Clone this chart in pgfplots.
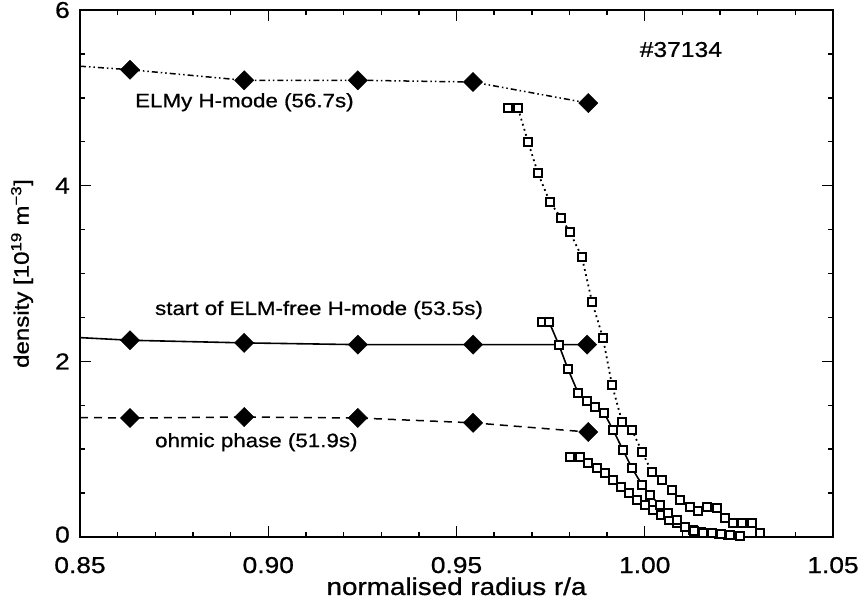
\documentclass[border=0pt]{standalone}
\usepackage{fontspec}
\setmainfont{Liberation Sans}[FakeStretch=1.15, FakeBold=0.8]
\usepackage{pgfplots}
\pgfplotsset{compat=1.18}
\begin{document}
\begin{tikzpicture}
\begin{axis}[
  scale only axis, width=753bp, height=527bp,
  xmin=0.85, xmax=1.05, ymin=0, ymax=6,
  xtick={0.85,0.90,0.95,1.00,1.05},
  ytick={0,2,4,6},
  yticklabels={\raisebox{5bp}{0},2,4,\raisebox{-9bp}{6}},
  minor x tick num=4, minor y tick num=3,
  major tick length=11bp, minor tick length=5bp,
  every tick/.style={line width=1.4bp, black},
  axis line style={line width=2.2bp},
  /pgf/number format/assume math mode=true,
  xticklabel style={/pgf/number format/fixed, /pgf/number format/fixed zerofill, /pgf/number format/precision=2},
  ticklabel style={font=\fontsize{23}{23}\selectfont},
  xticklabel style={anchor=base, yshift=-36bp, inner sep=0pt},
  yticklabel style={inner sep=0pt, xshift=-10bp},
  xlabel={normalised radius r/a},
  ylabel={density [10\textsuperscript{19} m\textsuperscript{−3}]},
  xlabel style={font=\fontsize{24.3}{24.3}\selectfont, inner sep=0pt, at={(axis description cs:0.5,-0.110)}, anchor=base},
  ylabel style={font=\fontsize{21}{21}\selectfont, at={(axis description cs:-0.077,0.5)}, anchor=center},
  diam/.style={only marks, mark=square*, mark size=6.8bp, mark options={rotate=45, fill=black, solid}},
  sq/.style={mark=square*, mark size=3.8bp, mark options={fill=white, draw=black, line width=2bp, solid}},
]
% ELMy H-mode diamonds line
\addplot[black, line width=1.5bp, dash pattern=on 6bp off 3bp on 1.5bp off 3bp on 1.5bp off 3bp] coordinates {
 (0.85,5.36) (0.8633,5.32) (0.8936,5.20) (0.9238,5.20) (0.9544,5.18) (0.9850,4.94)};
\addplot[black, diam] coordinates {
 (0.8633,5.32) (0.8936,5.20) (0.9238,5.20) (0.9544,5.18) (0.9850,4.94)};
% start of ELM-free
\addplot[black, line width=1.6bp] coordinates {
 (0.85,2.27) (0.8633,2.24) (0.8936,2.21) (0.9238,2.19) (0.9544,2.19) (0.9847,2.19)};
\addplot[black, diam] coordinates {
 (0.8633,2.24) (0.8936,2.21) (0.9238,2.19) (0.9544,2.19) (0.9847,2.19)};
% ohmic
\addplot[black, line width=1.5bp, dash pattern=on 8bp off 6bp] coordinates {
 (0.85,1.36) (0.8633,1.355) (0.8936,1.366) (0.9238,1.355) (0.9544,1.30) (0.9850,1.195)};
\addplot[black, diam] coordinates {
 (0.8633,1.355) (0.8936,1.366) (0.9238,1.355) (0.9544,1.30) (0.9850,1.195)};
% ohmic squares
\addplot[black, line width=1.6bp, sq] coordinates {
 (0.9801,0.911) (0.9828,0.911) (0.9849,0.843) (0.9873,0.786) (0.9894,0.729)
 (0.9916,0.649) (0.9937,0.569) (0.9958,0.501) (0.9979,0.421) (1.0001,0.364)
 (1.0022,0.307) (1.0043,0.250) (1.0064,0.194) (1.0086,0.159) (1.0107,0.114)
 (1.0128,0.080) (1.0149,0.057) (1.0173,0.046) (1.0197,0.034) (1.0221,0.023)};
% ELM-free squares
\addplot[black, line width=1.6bp, sq] coordinates {
 (0.9727,2.448) (0.9746,2.448) (0.9772,2.186) (0.9796,1.913) (0.9823,1.640)
 (0.9847,1.548) (0.9868,1.480) (0.9892,1.412) (0.9916,1.218) (0.9942,0.991)
 (0.9966,0.786) (0.9993,0.592) (1.0014,0.478) (1.0040,0.364) (1.0062,0.273)
 (1.0086,0.194) (1.0107,0.114) (1.0131,0.068) (1.0155,0.046) (1.0179,0.046)
 (1.0202,0.034) (1.0226,0.023) (1.0253,0.011)};
% ELMy squares
\addplot[black, line width=1.8bp, dash pattern=on 1.8bp off 3.5bp, sq] coordinates {
 (0.9637,4.886) (0.9663,4.886) (0.9690,4.50) (0.9716,4.145) (0.9748,3.814)
 (0.9778,3.632) (0.9801,3.473) (0.9833,3.188) (0.9860,2.676) (0.9889,2.266)
 (0.9913,1.731) (0.9940,1.309) (0.9966,1.218) (0.9993,0.968) (1.0019,0.740)
 (1.0046,0.649) (1.0072,0.535) (1.0094,0.421) (1.0120,0.342) (1.0141,0.296)
 (1.0165,0.342) (1.0192,0.330) (1.0213,0.216) (1.0234,0.159) (1.0258,0.159)
 (1.0285,0.159) (1.0306,0.046)};
\node[anchor=center, font=\fontsize{21.5}{21.5}\selectfont] at (axis cs:1.0096,5.55) {\#37134};
\node[anchor=west, inner sep=0pt, font=\fontsize{19.5}{19.5}\selectfont] at (axis cs:0.8646,4.95) {ELMy H-mode (56.7s)};
\node[anchor=west, inner sep=0pt, font=\fontsize{19.5}{19.5}\selectfont] at (axis cs:0.8699,2.585) {start of ELM-free H-mode (53.5s)};
\node[anchor=west, inner sep=0pt, font=\fontsize{19.5}{19.5}\selectfont] at (axis cs:0.8699,1.08) {ohmic phase (51.9s)};
\end{axis}
\path (current axis.south west) ++(-80bp,-71bp) rectangle ++(861bp,608bp);
\end{tikzpicture}
\end{document}
